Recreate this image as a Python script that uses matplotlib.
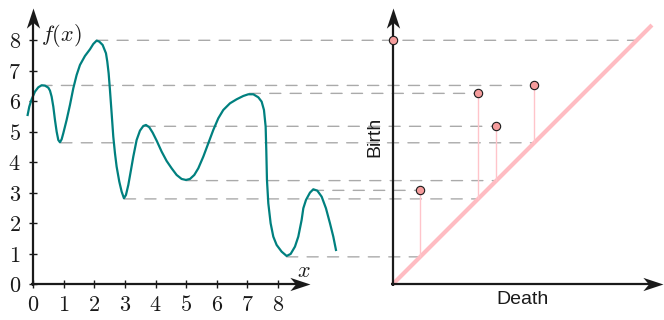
import numpy as np
import matplotlib
matplotlib.use("Agg")
import matplotlib.pyplot as plt
from matplotlib.path import Path
from matplotlib.patches import ConnectionPatch

plt.rcParams['mathtext.fontset'] = 'cm'

# ---------------- data ----------------
curve_x = [-0.185, -0.131, -0.054, 0.054, 0.163, 0.272, 0.381, 0.490, 0.545, 0.599,
           0.654, 0.708, 0.763, 0.817, 0.871, 0.926, 0.980, 1.089, 1.198, 1.307,
           1.416, 1.525, 1.688, 1.852, 1.961, 2.070, 2.157, 2.266, 2.375, 2.418,
           2.462, 2.505, 2.560, 2.614, 2.669, 2.723, 2.810, 2.887, 2.963, 3.028,
           3.105, 3.192, 3.268, 3.377, 3.486, 3.595, 3.682, 3.791, 3.900, 4.031,
           4.194, 4.357, 4.521, 4.684, 4.847, 4.989, 5.120, 5.261, 5.392, 5.556,
           5.719, 5.882, 6.046, 6.209, 6.427, 6.645, 6.863, 7.026, 7.190, 7.353,
           7.462, 7.538, 7.593, 7.614, 7.636, 7.680, 7.756, 7.843, 7.952, 8.115,
           8.279, 8.410, 8.551, 8.660, 8.769, 8.824, 8.911, 9.041, 9.150, 9.281,
           9.423, 9.564, 9.695, 9.804, 9.891]
curve_y = [5.552, 5.825, 6.066, 6.317, 6.459, 6.525, 6.514, 6.448, 6.350, 6.153,
           5.825, 5.388, 5.005, 4.732, 4.656, 4.754, 4.951, 5.388, 5.880, 6.426,
           6.863, 7.191, 7.486, 7.705, 7.880, 7.990, 7.956, 7.847, 7.574, 7.301,
           6.918, 6.372, 5.607, 4.842, 4.295, 3.858, 3.366, 3.038, 2.820, 2.929,
           3.257, 3.749, 4.186, 4.732, 5.038, 5.191, 5.224, 5.148, 4.973, 4.710,
           4.350, 4.044, 3.803, 3.585, 3.454, 3.421, 3.454, 3.585, 3.803, 4.186,
           4.623, 5.060, 5.443, 5.716, 5.934, 6.066, 6.175, 6.230, 6.230, 6.131,
           5.989, 5.716, 5.169, 4.404, 3.421, 2.656, 2.000, 1.563, 1.290, 1.071,
           0.929, 0.995, 1.235, 1.563, 2.109, 2.492, 2.765, 3.005, 3.115, 3.071,
           2.874, 2.492, 2.000, 1.563, 1.126]

x_tick_labels = ['0', '1', '2', '3', '4', '5', '6', '7', '8']
y_tick_labels = ['0', '1', '2', '3', '4', '5', '6', '7', '8']

# persistence pairs (finite) and the essential class
finite_death = [0.90, 2.80, 3.40, 4.64]
finite_birth = [3.08, 6.26, 5.18, 6.52]
birth_x_on_curve = [9.12, 7.06, 3.62, 0.25]
death_x_on_curve = [8.28, 2.98, 4.99, 0.90]
essential_birth = 8.0
essential_x_on_curve = 2.07

# ---------------- styling ----------------
TEAL = '#00807f'
AXC = '#1a1a1a'
DASHC = '#aaaaaa'
PINK_DIAG = '#ffbcc2'
PINK_STEM = '#ffc4ca'
PT_FACE = '#f59c9c'

W, H = 664, 320
fig = plt.figure(figsize=(W / 100, H / 100), dpi=100)


def add_axes_px(x0, y0_top, sx, sy, xlim, ylim):
    left = x0 + sx * xlim[0]
    right = x0 + sx * xlim[1]
    bottom = (H - y0_top) + sy * ylim[0]
    top = (H - y0_top) + sy * ylim[1]
    ax = fig.add_axes([left / W, bottom / H, (right - left) / W, (top - bottom) / H])
    ax.set_xlim(*xlim)
    ax.set_ylim(*ylim)
    ax.patch.set_visible(False)
    for s in ax.spines.values():
        s.set_visible(False)
    return ax


ax1 = add_axes_px(33.3, 284.3, 30.6, 30.5, (-0.9, 10.0), (-1.1, 9.2))
ax2 = add_axes_px(392.7, 284.3, 30.5, 30.5, (-0.6, 8.95), (-1.1, 9.2))
ax1.set_zorder(3)
ax2.set_zorder(3)

# arrow head markers (stealth-like), tip at origin
right_head = Path([(0, 0), (-1, 0.33), (-0.72, 0), (-1, -0.33), (0, 0)],
                  [Path.MOVETO, Path.LINETO, Path.LINETO, Path.LINETO, Path.CLOSEPOLY])
up_head = Path([(0, 0), (0.33, -1), (0, -0.72), (-0.33, -1), (0, 0)],
               [Path.MOVETO, Path.LINETO, Path.LINETO, Path.LINETO, Path.CLOSEPOLY])


def draw_axes_arrows(ax, xmax, ymax, xmin=-0.06, ymin=-0.06):
    ax.plot([xmin, xmax - 0.3], [0, 0], color=AXC, lw=1.6, solid_capstyle='butt',
            clip_on=False, zorder=5)
    ax.plot([0, 0], [ymin, ymax - 0.3], color=AXC, lw=1.6, solid_capstyle='butt',
            clip_on=False, zorder=5)
    ax.plot([xmax], [0], marker=right_head, ms=29, color=AXC, mew=0, clip_on=False, zorder=6)
    ax.plot([0], [ymax], marker=up_head, ms=29, color=AXC, mew=0, clip_on=False, zorder=6)


# ---------------- left: function ----------------
ax1.plot(curve_x, curve_y, color=TEAL, lw=1.6, clip_on=False, zorder=4,
         solid_joinstyle='round')
draw_axes_arrows(ax1, 9.04, 9.06)

ax1.spines['bottom'].set_position(('data', 0))
ax1.spines['left'].set_position(('data', 0))
ax1.set_xticks(range(len(x_tick_labels)))
ax1.set_xticklabels(['$%s$' % t for t in x_tick_labels])
ax1.set_yticks(range(len(y_tick_labels)))
ax1.set_yticklabels(['$%s$' % t for t in y_tick_labels])
ax1.tick_params(axis='both', direction='inout', length=6, width=1.0, color=AXC,
                labelsize=16, labelcolor=AXC)
ax1.tick_params(axis='x', pad=5)
ax1.tick_params(axis='y', pad=6)

ax1.text(0.25, 8.15, '$f(x)$', fontsize=16, ha='left', va='center', color=AXC)
ax1.text(8.84, 0.44, '$x$', fontsize=16, ha='center', va='center', color=AXC)

# ---------------- right: persistence diagram ----------------
ax2.set_xticks([])
ax2.set_yticks([])
ax2.plot([0, 8.5], [0, 8.5], color=PINK_DIAG, lw=3.0, solid_capstyle='butt', zorder=2)
ax2.vlines(finite_death, finite_death, finite_birth, color=PINK_STEM, lw=1.0, zorder=2)
draw_axes_arrows(ax2, 8.86, 9.06)
ax2.plot(finite_death + [0.0], finite_birth + [essential_birth], 'o', ms=6,
         mfc=PT_FACE, mec=AXC, mew=0.8, clip_on=False, zorder=7)

ax2.text(-0.58, 4.83, 'Birth', rotation=90, fontsize=14, ha='center', va='center',
         family='Liberation Sans', color=AXC)
ax2.text(4.27, -0.51, 'Death', fontsize=14, ha='center', va='center',
         family='Liberation Sans', color=AXC)

# ---------------- dashed level lines ----------------
segments = []
for d, b, xb, xd in zip(finite_death, finite_birth, birth_x_on_curve, death_x_on_curve):
    segments.append((xb, b, d))
    segments.append((xd, d, d))
segments.append((essential_x_on_curve, essential_birth, essential_birth))

for x_left, lvl, x_right in segments:
    cp = ConnectionPatch(xyA=(x_left, lvl), coordsA=ax1.transData,
                         xyB=(x_right, lvl), coordsB=ax2.transData,
                         color=DASHC, lw=1.0, linestyle=(0, (8, 6.7)), zorder=1)
    fig.add_artist(cp)

fig.savefig('out.png', dpi=100)
